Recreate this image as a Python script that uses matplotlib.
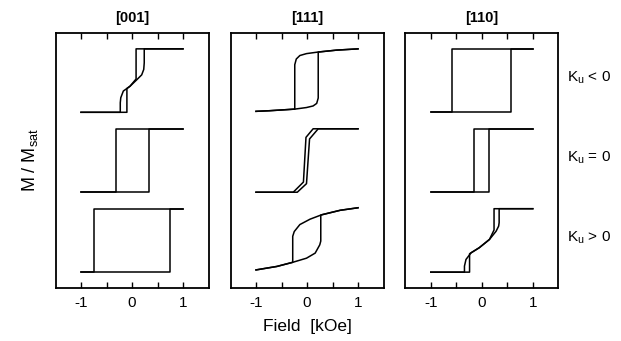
import numpy as np
import matplotlib
matplotlib.use("Agg")
import matplotlib.pyplot as plt

plt.rcParams['font.family'] = ['Liberation Sans', 'DejaVu Sans']
plt.rcParams['mathtext.default'] = 'regular'
plt.rcParams['axes.unicode_minus'] = False

# panel titles and loop labels
titles = ['[001]', '[111]', '[110]']
ku_labels = ['K$_u$ < 0', 'K$_u$ = 0', 'K$_u$ > 0']
offsets = [2.52, 0.0, -2.52]   # vertical shift of the three stacked loops

# ---- [001] ----
h001_top_dn = [1.0, 0.08, 0.08, -0.04, -0.17, -0.22, -0.23, -0.23, -1.0]
m001_top_dn = [1.0, 1.0, 0.05, -0.18, -0.33, -0.54, -0.70, -1.0, -1.0]
h001_top_up = [-1.0, -0.10, -0.10, -0.04, 0.09, 0.19, 0.23, 0.24, 0.24, 1.0]
m001_top_up = [-1.0, -1.0, -0.25, -0.18, 0.02, 0.18, 0.35, 0.56, 1.0, 1.0]
h001_mid_dn = [1.0, -0.31, -0.31, -1.0]
m001_mid_dn = [1.0, 1.0, -1.0, -1.0]
h001_mid_up = [-1.0, 0.33, 0.33, 1.0]
m001_mid_up = [-1.0, -1.0, 1.0, 1.0]
h001_bot_dn = [1.0, -0.74, -0.74, -1.0]
m001_bot_dn = [1.0, 1.0, -1.0, -1.0]
h001_bot_up = [-1.0, 0.75, 0.75, 1.0]
m001_bot_up = [-1.0, -1.0, 1.0, 1.0]

# ---- [111] ----
h111_top_dn = [1.0, 0.58, 0.22, 0.22, 0.19, 0.12, -0.01, -0.24, -0.73, -1.0]
m111_top_dn = [1.0, 0.96, 0.90, -0.55, -0.72, -0.80, -0.85, -0.90, -0.95, -0.97]
h111_top_up = [-1.0, -0.73, -0.24, -0.24, -0.21, -0.14, -0.01, 0.22, 0.58, 1.0]
m111_top_up = [-0.97, -0.95, -0.90, 0.50, 0.68, 0.79, 0.85, 0.90, 0.96, 1.0]
h111_mid_dn = [1.0, 0.12, -0.02, -0.07, -0.27, -1.0]
m111_mid_dn = [1.0, 1.0, 0.73, -0.68, -1.0, -1.0]
h111_mid_up = [-1.0, -0.19, -0.01, 0.05, 0.22, 1.0]
m111_mid_up = [-1.0, -1.0, -0.73, 0.68, 1.0, 1.0]
h111_bot_dn = [1.0, 0.65, 0.29, 0.06, -0.14, -0.25, -0.28, -0.28, -0.59, -1.0]
m111_bot_dn = [1.03, 0.95, 0.81, 0.67, 0.50, 0.28, 0.13, -0.69, -0.82, -0.93]
h111_bot_up = [-1.0, -0.59, -0.28, -0.01, 0.16, 0.25, 0.27, 0.27, 0.65, 1.0]
m111_bot_up = [-0.93, -0.82, -0.69, -0.56, -0.40, -0.14, -0.02, 0.80, 0.95, 1.03]

# ---- [110] ----
h110_top_dn = [1.0, -0.58, -0.58, -1.0]
m110_top_dn = [1.0, 1.0, -1.0, -1.0]
h110_top_up = [-1.0, 0.57, 0.57, 1.0]
m110_top_up = [-1.0, -1.0, 1.0, 1.0]
h110_mid_dn = [1.0, -0.15, -0.15, -1.0]
m110_mid_dn = [1.0, 1.0, -1.0, -1.0]
h110_mid_up = [-1.0, 0.15, 0.15, 1.0]
m110_mid_up = [-1.0, -1.0, 1.0, 1.0]
h110_bot_dn = [1.0, 0.24, 0.24, 0.15, -0.05, -0.21, -0.31, -0.34, -0.34, -1.0]
m110_bot_dn = [1.0, 1.0, 0.33, 0.03, -0.23, -0.39, -0.60, -0.81, -1.0, -1.0]
h110_bot_up = [-1.0, -0.24, -0.24, -0.21, -0.05, 0.15, 0.28, 0.33, 0.34, 0.34, 1.0]
m110_bot_up = [-1.0, -1.0, -0.42, -0.39, -0.23, 0.03, 0.29, 0.45, 0.56, 1.0, 1.0]

panels = [
    [(h001_top_dn, m001_top_dn, h001_top_up, m001_top_up),
     (h001_mid_dn, m001_mid_dn, h001_mid_up, m001_mid_up),
     (h001_bot_dn, m001_bot_dn, h001_bot_up, m001_bot_up)],
    [(h111_top_dn, m111_top_dn, h111_top_up, m111_top_up),
     (h111_mid_dn, m111_mid_dn, h111_mid_up, m111_mid_up),
     (h111_bot_dn, m111_bot_dn, h111_bot_up, m111_bot_up)],
    [(h110_top_dn, m110_top_dn, h110_top_up, m110_top_up),
     (h110_mid_dn, m110_mid_dn, h110_mid_up, m110_mid_up),
     (h110_bot_dn, m110_bot_dn, h110_bot_up, m110_bot_up)],
]

W, H = 621, 341
fig = plt.figure(figsize=(W / 100, H / 100), dpi=100)
lefts = [55.5, 230.5, 405.3]
axes = []
for i, left in enumerate(lefts):
    ax = fig.add_axes([left / W, (H - 288) / H, 153 / W, 255 / H])
    for (hd, md, hu, mu), off in zip(panels[i], offsets):
        ax.plot(hd, np.array(md) + off, color='black', lw=1.1, solid_joinstyle='round')
        ax.plot(hu, np.array(mu) + off, color='black', lw=1.1, solid_joinstyle='round')
    ax.set_xlim(-1.5, 1.5)
    ax.set_ylim(-4.02, 4.02)
    ax.set_xticks([-1, 0, 1])
    ax.set_xticklabels(['-1', '0', '1'])
    ax.set_xticks([-0.5, 0.5], minor=True)
    ax.set_yticks([])
    ax.tick_params(axis='x', which='both', direction='in', top=True, bottom=True,
                   length=4, width=1.0, labelsize=11, pad=6)
    for sp in ax.spines.values():
        sp.set_linewidth(1.3)
    ax.set_title(titles[i], fontsize=10.5, fontweight='bold', pad=8)
    axes.append(ax)

for lab, off in zip(ku_labels, offsets):
    axes[2].text(1.06, off + 0.08, lab, transform=axes[2].get_yaxis_transform(),
                 fontsize=11, va='center', ha='left')

fig.text(30 / W, 1 - 160 / H, 'M / M$_{sat}$', rotation=90, fontsize=13,
         ha='center', va='center')
fig.text(307 / W, 1 - 326 / H, 'Field  [kOe]', fontsize=12.5, ha='center', va='center')

fig.savefig('out.png', dpi=100)
